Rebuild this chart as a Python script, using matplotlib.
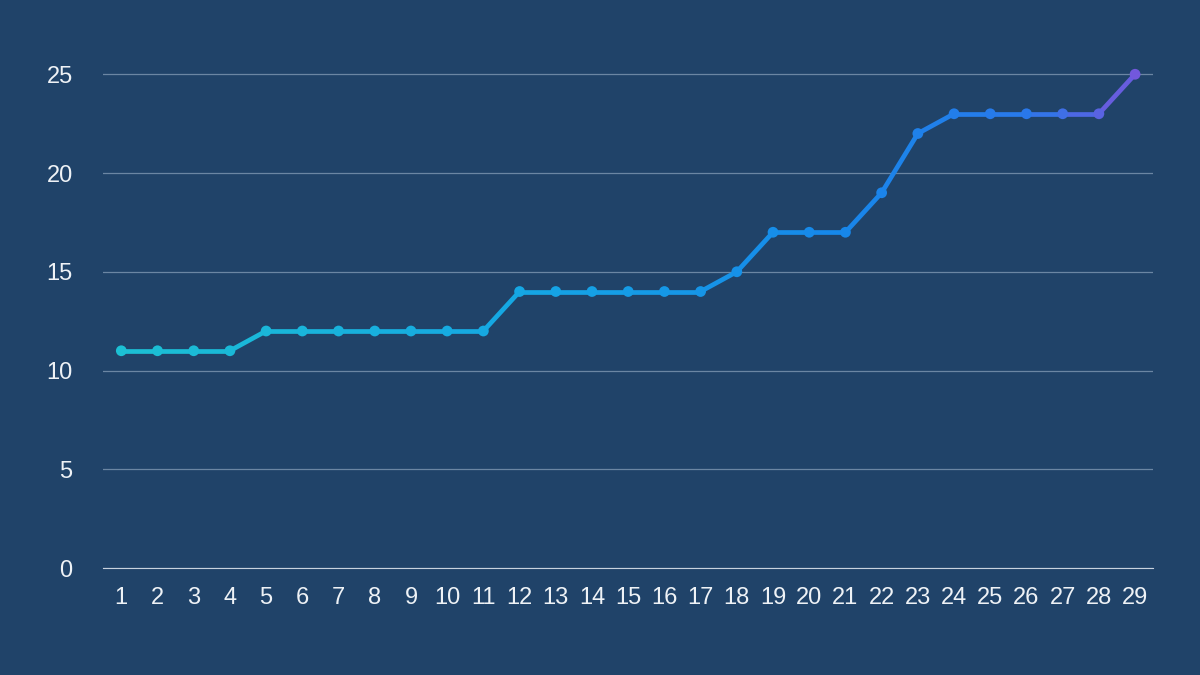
import numpy as np
import matplotlib.pyplot as plt
from matplotlib.collections import LineCollection
from matplotlib.colors import LinearSegmentedColormap

days = list(range(1, 30))
values = [11, 11, 11, 11, 12, 12, 12, 12, 12, 12, 12, 14, 14, 14, 14, 14, 14,
          15, 17, 17, 17, 19, 22, 23, 23, 23, 23, 23, 25]

bg = '#204369'
plt.rcParams['font.family'] = ['Liberation Sans', 'DejaVu Sans']

fig = plt.figure(figsize=(12, 6.75), dpi=100, facecolor=bg)
ax = fig.add_axes([0.086, 0.1585, 0.875, 0.79], facecolor=bg)

cmap = LinearSegmentedColormap.from_list(
    'g', [(0, '#1cc0d4'), (0.4, '#15a6e4'), (0.7, '#1688ea'), (0.9, '#2a78ea'), (1, '#7258dc')])
x = np.array(days, dtype=float)
y = np.array(values, dtype=float)
pts = np.column_stack([x, y]).reshape(-1, 1, 2)
segs = np.concatenate([pts[:-1], pts[1:]], axis=1)
t = (x - x.min()) / (x.max() - x.min())
lc = LineCollection(segs, colors=cmap((t[:-1] + t[1:]) / 2), linewidth=3.4, capstyle='round', zorder=3)
ax.add_collection(lc)
ax.scatter(x, y, s=60, c=cmap(t), zorder=4, linewidths=0)

ax.set_xlim(0.5, 29.5)
ax.set_ylim(0, 27)
ax.set_xticks(days)
ax.set_yticks([0, 5, 10, 15, 20, 25])
ax.grid(axis='y', color='#6b86a3', linewidth=0.9)
ax.set_axisbelow(True)
for s in ['top', 'right', 'left']:
    ax.spines[s].set_visible(False)
ax.spines['bottom'].set_color('#c8d2de')
ax.tick_params(colors='#eef2f6', labelsize=17, length=0, pad=14)
ax.tick_params(axis='y', pad=22)

fig.savefig('out.png', dpi=100, facecolor=bg)
